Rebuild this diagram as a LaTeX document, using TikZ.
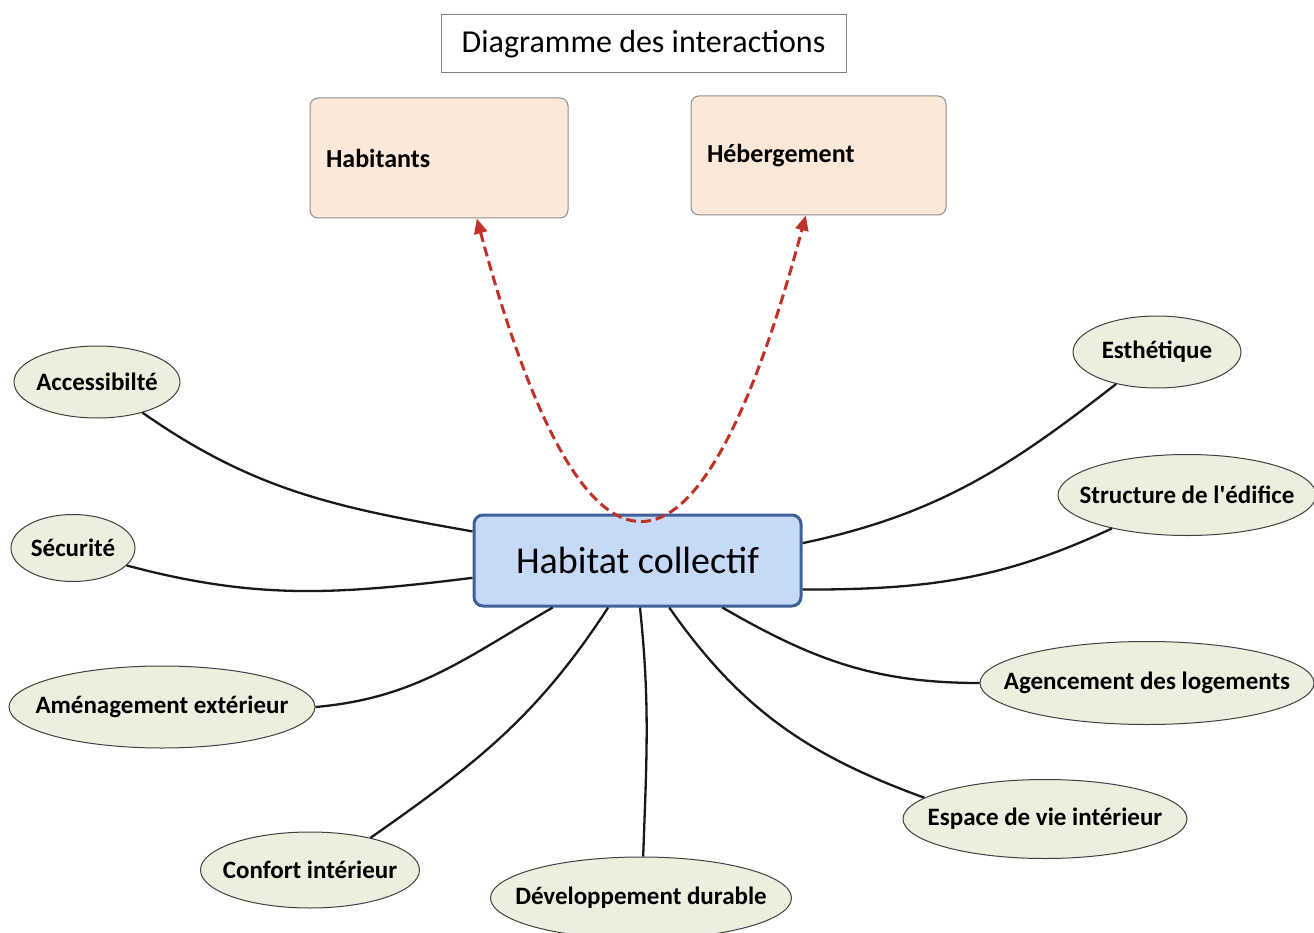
\documentclass[tikz,border=0pt]{standalone}
\usepackage{fontspec}
\setmainfont{Carlito}
\usetikzlibrary{shapes.geometric,arrows.meta}

\definecolor{peach}{RGB}{252,232,216}
\definecolor{sage}{RGB}{235,239,222}
\definecolor{paleblue}{RGB}{198,218,248}
\definecolor{navyedge}{RGB}{64,96,154}
\definecolor{linkred}{RGB}{192,50,40}

\tikzset{
  topic/.style={ellipse, draw=black!75, fill=sage, line width=1pt, inner sep=0pt, font=\fontsize{25}{28}\selectfont\bfseries,
    execute at begin node={\hbox to 0pt\bgroup\hss}, execute at end node={\hss\egroup}},
  actor/.style={rectangle, rounded corners=8pt, draw=black!45, fill=peach, line width=1pt, minimum width=258pt, minimum height=120pt, text width=226pt, align=left, font=\fontsize{26}{30}\selectfont\bfseries},
  link/.style={line width=2.3pt, black!90},
  interact/.style={line width=3pt, linkred, dash pattern=on 10pt off 5pt, {Triangle[length=15pt,width=13pt]}-{Triangle[length=15pt,width=13pt]}}
}

\begin{document}
\begin{tikzpicture}[x=1pt,y=1pt]
    \useasboundingbox (0,0) rectangle (1314,-933);

    % title and the two actors
    \node[draw=black!50, line width=1pt, minimum width=405pt, minimum height=58pt, font=\fontsize{32}{36}\selectfont] (title) at (643.5,-44) {Diagramme des interactions};
    \node[actor] (hab) at (439,-158) {Habitants};
    \node[actor, minimum width=255pt, minimum height=119pt, text width=223pt] (heb) at (818.5,-155.5) {Hébergement};

    % central node
    \node[rectangle, rounded corners=9pt, draw=navyedge, fill=paleblue, line width=3pt, minimum width=327pt, minimum height=91pt, font=\fontsize{38}{42}\selectfont] (hc) at (637.5,-560.5) {Habitat collectif};

    % topics
    \node[topic, minimum width=166pt, minimum height=72pt] (acc) at (97,-382) {Accessibilté};
    \node[topic, minimum width=124pt, minimum height=67pt] (sec) at (73,-548) {Sécurité};
    \node[topic, minimum width=306pt, minimum height=82pt] (amen) at (162,-707) {Aménagement extérieur};
    \node[topic, minimum width=219pt, minimum height=76pt] (conf) at (310,-870) {Confort intérieur};
    \node[topic, minimum width=301pt, minimum height=82pt] (dev) at (641,-898) {Développement durable};
    \node[topic, minimum width=284pt, minimum height=79pt] (esp) at (1045,-819) {Espace de vie intérieur};
    \node[topic, minimum width=334pt, minimum height=83pt] (agen) at (1147,-683) {Agencement des logements};
    \node[topic, minimum width=258pt, minimum height=81pt] (struc) at (1187,-495) {Structure de l\textquotesingle édifice};
    \node[topic, minimum width=168pt, minimum height=72pt] (esth) at (1157,-352) {Esthétique};

    % links to the centre
    \draw[link] (acc.-34) to[out=-35, in=170] (hc.170);
    \draw[link] (sec.-18) to[out=-15, in=187] (hc.186);
    \draw[link] (amen.0) to[out=5, in=210] (hc.209.5);
    \draw[link] (conf.28) to[out=35, in=237] (hc.238);
    \draw[link] (dev.87) to[out=88, in=276] (hc.273);
    \draw[link] (esp.170) to[out=160, in=305] (hc.304);
    \draw[link] (agen.180) to[out=180, in=330] (hc.331);
    \draw[link] (struc.204) to[out=205, in=0] (hc.350.5);
    \draw[link] (esth.218) to[out=218, in=12] (hc.6);

    % interactions
    \draw[interact] (hab.-58) .. controls +(108,-400) and +(-108,-403) .. (heb.-102);
\end{tikzpicture}
\end{document}
